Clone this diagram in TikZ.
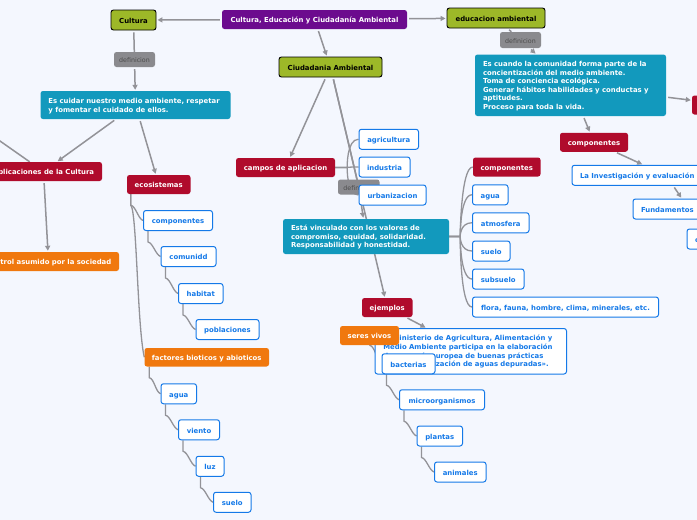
\documentclass[tikz,border=0pt]{standalone}
\usepackage{fontspec}
\setmainfont{DejaVu Sans}
\usetikzlibrary{arrows.meta,backgrounds}
\definecolor{pagebg}{HTML}{F4F7FE}
\definecolor{linegray}{HTML}{939398}
\definecolor{mappurple}{HTML}{6C0B8E}
\definecolor{mapgreen}{HTML}{9DB828}
\definecolor{mapteal}{HTML}{1299BD}
\definecolor{mapred}{HTML}{B00B2C}
\definecolor{maporange}{HTML}{F0780E}
\definecolor{mapgray}{HTML}{8A8A8E}
\definecolor{mapblue}{HTML}{1479E8}
\tikzset{
	mapnode/.style={rectangle, rounded corners=2.5pt, inner sep=0pt, font=\bfseries\fontsize{6.9}{8.6}\selectfont},
	oneline/.style={text height=6.6pt, text depth=0pt},
	rootnode/.style={mapnode, oneline, fill=mappurple, text=white},
	greennode/.style={mapnode, oneline, fill=mapgreen, draw=black, line width=0.9pt, text=black},
	tealnode/.style={mapnode, fill=mapteal, text=white, align=left, text height=7pt},
	rednode/.style={mapnode, oneline, fill=mapred, text=white},
	orangenode/.style={mapnode, oneline, fill=maporange, text=white},
	graynode/.style={mapnode, oneline, fill=mapgray, text=black!70, font=\fontsize{6.3}{8}\selectfont},
	whitebox/.style={mapnode, fill=white, draw=mapblue, line width=1pt, text=mapblue, text height=6.5pt},
	bluenode/.style={whitebox, oneline},
	arrowline/.style={draw=linegray, line width=1.5pt, shorten >=1pt, shorten <=2pt, -{Triangle[length=5pt,width=5pt]}},
	plainline/.style={draw=linegray, line width=1.5pt, shorten >=0pt, shorten <=2pt},
	branch/.style={draw=linegray, line width=1.3pt}
}
\begin{document}
\begin{tikzpicture}[x=1pt, y=-1pt]
	\useasboundingbox (0,0) rectangle (697,520);
	% top row
	\node[rootnode, minimum width=185pt, minimum height=19pt] (root) at (314.5,19.5) {Cultura, Educación y Ciudadanía Ambiental};
	\node[greennode, minimum width=45pt, minimum height=20pt] (cultura) at (133.5,20) {Cultura};
	\node[greennode, minimum width=98pt, minimum height=20pt] (educacion) at (496,18) {educacion ambiental};
	\node[greennode, minimum width=103pt, minimum height=20pt] (ciudadania) at (330.5,67) {Ciudadania Ambiental};
	% left side
	\node[graynode, minimum width=41pt, minimum height=15pt] (defcultura) at (134.5,59.5) {definicion};
	\node[tealnode, minimum width=190pt, minimum height=28pt, text width=174pt] (cuidar) at (135.5,105) {Es cuidar nuestro medio ambiente, respetar\\y fomentar el cuidado de ellos.};
	\coordinate (offleft) at (-40,113);
	\node[rednode, minimum width=117pt, minimum height=19pt] (aplicaciones) at (43.5,171.5) {Aplicaciones de la Cultura};
	\node[orangenode, minimum width=141pt, minimum height=19pt] (control) at (48.5,261.5) {Control asumido por la sociedad};
	\node[rednode, minimum width=63.5pt, minimum height=19pt] (ecosistemas) at (158.75,184.5) {ecosistemas};
	\node[bluenode, minimum width=69pt, minimum height=20pt] (compizq) at (178,220.5) {componentes};
	\node[bluenode, minimum width=55pt, minimum height=20pt] (comunidd) at (188.5,256.5) {comunidd};
	\node[bluenode, minimum width=44.5pt, minimum height=20pt] (habitat) at (200.75,293.5) {habitat};
	\node[bluenode, minimum width=63pt, minimum height=20pt] (poblaciones) at (227.5,329.5) {poblaciones};
	\node[orangenode, minimum width=124.5pt, minimum height=18.5pt] (factores) at (206.75,357.25) {factores bioticos y abioticos};
	\node[bluenode, minimum width=35.5pt, minimum height=20pt] (aguaizq) at (178.75,393.75) {agua};
	\node[bluenode, minimum width=41pt, minimum height=20pt] (viento) at (199,429.75) {viento};
	\node[bluenode, minimum width=28pt, minimum height=20pt] (luz) at (210,466.25) {luz};
	\node[bluenode, minimum width=37.5pt, minimum height=20pt] (sueloizq) at (232.25,502.25) {suelo};
	% centre
	\node[rednode, minimum width=99pt, minimum height=19pt] (campos) at (285.5,167.5) {campos de aplicacion};
	\node[graynode, minimum width=41.5pt, minimum height=15pt] (defciudad) at (358.75,187) {definicion};
	\node[bluenode, minimum width=59.5pt, minimum height=20pt] (agricultura) at (388.75,139.25) {agricultura};
	\node[bluenode, minimum width=51pt, minimum height=20pt] (industria) at (384.5,167) {industria};
	\node[bluenode, minimum width=67pt, minimum height=20pt] (urbanizacion) at (392.5,195) {urbanizacion};
	\node[tealnode, minimum width=166pt, minimum height=35pt, text width=150pt] (vinculado) at (366,236.5) {Está vinculado con los valores de\\compromiso, equidad, solidaridad.\\Responsabilidad y honestidad.};
	\node[rednode, minimum width=67.5pt, minimum height=19pt] (compcentro) at (506.75,167) {componentes};
	\node[bluenode, minimum width=35.5pt, minimum height=20pt] (aguacentro) at (490.25,194.75) {agua};
	\node[bluenode, minimum width=56.5pt, minimum height=20pt] (atmosfera) at (500.75,222.75) {atmosfera};
	\node[bluenode, minimum width=37.5pt, minimum height=20pt] (suelocentro) at (491.25,251) {suelo};
	\node[bluenode, minimum width=51.5pt, minimum height=20pt] (subsuelo) at (498.25,279) {subsuelo};
	\node[bluenode, minimum width=186pt, minimum height=20pt] (flora) at (565.5,307) {flora, fauna, hombre, clima, minerales, etc.};
	% ejemplos
	\node[rednode, minimum width=50.5pt, minimum height=19pt] (ejemplos) at (387.25,307.5) {ejemplos};
	\node[whitebox, minimum width=191.5pt, minimum height=45.5pt, text width=175pt, align=left] (ministerio) at (470.75,351.25) {El Ministerio de Agricultura, Alimentación y\\Medio Ambiente participa en la elaboración\\de una guía europea de buenas prácticas\\para la reutilización de aguas depuradas».};
	\node[orangenode, minimum width=59pt, minimum height=19pt] (seres) at (369.5,335.5) {seres vivos};
	\node[bluenode, minimum width=53pt, minimum height=20pt] (bacterias) at (408.5,363.75) {bacterias};
	\node[bluenode, minimum width=85pt, minimum height=20pt] (microorganismos) at (442,399.75) {microorganismos};
	\node[bluenode, minimum width=45.5pt, minimum height=20pt] (plantas) at (439.75,436) {plantas};
	\node[bluenode, minimum width=51.5pt, minimum height=20pt] (animales) at (460.25,472) {animales};
	% right side
	\node[graynode, minimum width=41pt, minimum height=16pt] (defeducacion) at (520.5,40) {definicion};
	\node[tealnode, minimum width=191pt, minimum height=61.5pt, text width=175pt] (comunidad) at (570.5,85.25) {Es cuando la comunidad forma parte de la\\concientización del medio ambiente.\\Toma de conciencia ecológica.\\Generar hábitos habilidades y conductas y\\aptitudes.\\Proceso para toda la vida.};
	\node[rednode, minimum width=76pt, minimum height=19pt] (rojoder) at (730,105) {};
	\node[rednode, minimum width=68pt, minimum height=19pt] (compder) at (594,142.25) {componentes};
	\node[bluenode, minimum width=188pt, minimum height=20pt, text width=172pt, align=left] (investigacion) at (666,175.25) {La Investigación y evaluación};
	\node[bluenode, minimum width=112pt, minimum height=20pt, text width=96pt, align=left] (fundamentos) at (689,209) {Fundamentos};
	\node[bluenode, minimum width=40pt, minimum height=20pt, text width=24pt, align=left] (ultimo) at (707,239) {c};
	\begin{scope}[on background layer]
		\fill[pagebg] (0,0) rectangle (697,520);
		\draw[arrowline] (root) -- (cultura);
		\draw[arrowline] (root) -- (educacion);
		\draw[arrowline] (root) -- (ciudadania);
		\draw[plainline] (cultura) -- (defcultura);
		\draw[arrowline] (defcultura) -- (cuidar);
		\draw[arrowline] (cuidar) -- (aplicaciones);
		\draw[arrowline] (cuidar) -- (ecosistemas);
		\draw[plainline] (offleft) -- (aplicaciones);
		\draw[arrowline] (aplicaciones) -- (control);
		\draw[arrowline] (ciudadania) -- (campos);
		\draw[plainline] (ciudadania) -- (defciudad);
		\draw[arrowline] (defciudad) -- (vinculado);
		\draw[arrowline] (ciudadania) -- (ejemplos);
		\draw[arrowline] (ejemplos) -- (ministerio);
		\draw[plainline] (educacion) -- (defeducacion);
		\draw[arrowline] (defeducacion) -- (comunidad);
		\draw[arrowline] (comunidad) -- (rojoder);
		\draw[arrowline] (comunidad) -- (compder);
		\draw[arrowline] (compder) -- (investigacion);
		\draw[arrowline] (investigacion) -- (fundamentos);
		% cascades
		\foreach \parent/\child in {compizq/comunidd, comunidd/habitat, habitat/poblaciones, factores/aguaizq, aguaizq/viento, viento/luz, luz/sueloizq, bacterias/microorganismos, microorganismos/plantas, plantas/animales}
			\draw[branch] ([xshift=5pt]\parent.south west) -- ++(0,11) .. controls +(5,1) and +(-5,-2) .. (\child.west);
		\draw[branch] ([xshift=4pt]ecosistemas.south west) -- ++(0,11) .. controls +(5,1) and +(-5,-2) .. (compizq.west);
		\draw[branch] ([xshift=4pt]ecosistemas.south west) -- ++(0,11) .. controls +(6,6) and +(-7,-30) .. (factores.west);
		\draw[branch] (seres.south) .. controls +(6,1) and +(-5,-2) .. (bacterias.west);
		% fans
		\foreach \child in {agricultura, industria, urbanizacion}
			\draw[branch] (campos.east) -- ++(12,0) .. controls +(0,0) and +(-12,0) .. (\child.west);
		\foreach \child in {compcentro, aguacentro, atmosfera, suelocentro, subsuelo, flora}
			\draw[branch] (vinculado.east) -- ++(11,0) .. controls +(0,0) and +(-12,0) .. (\child.west);
	\end{scope}
\end{tikzpicture}
\end{document}
